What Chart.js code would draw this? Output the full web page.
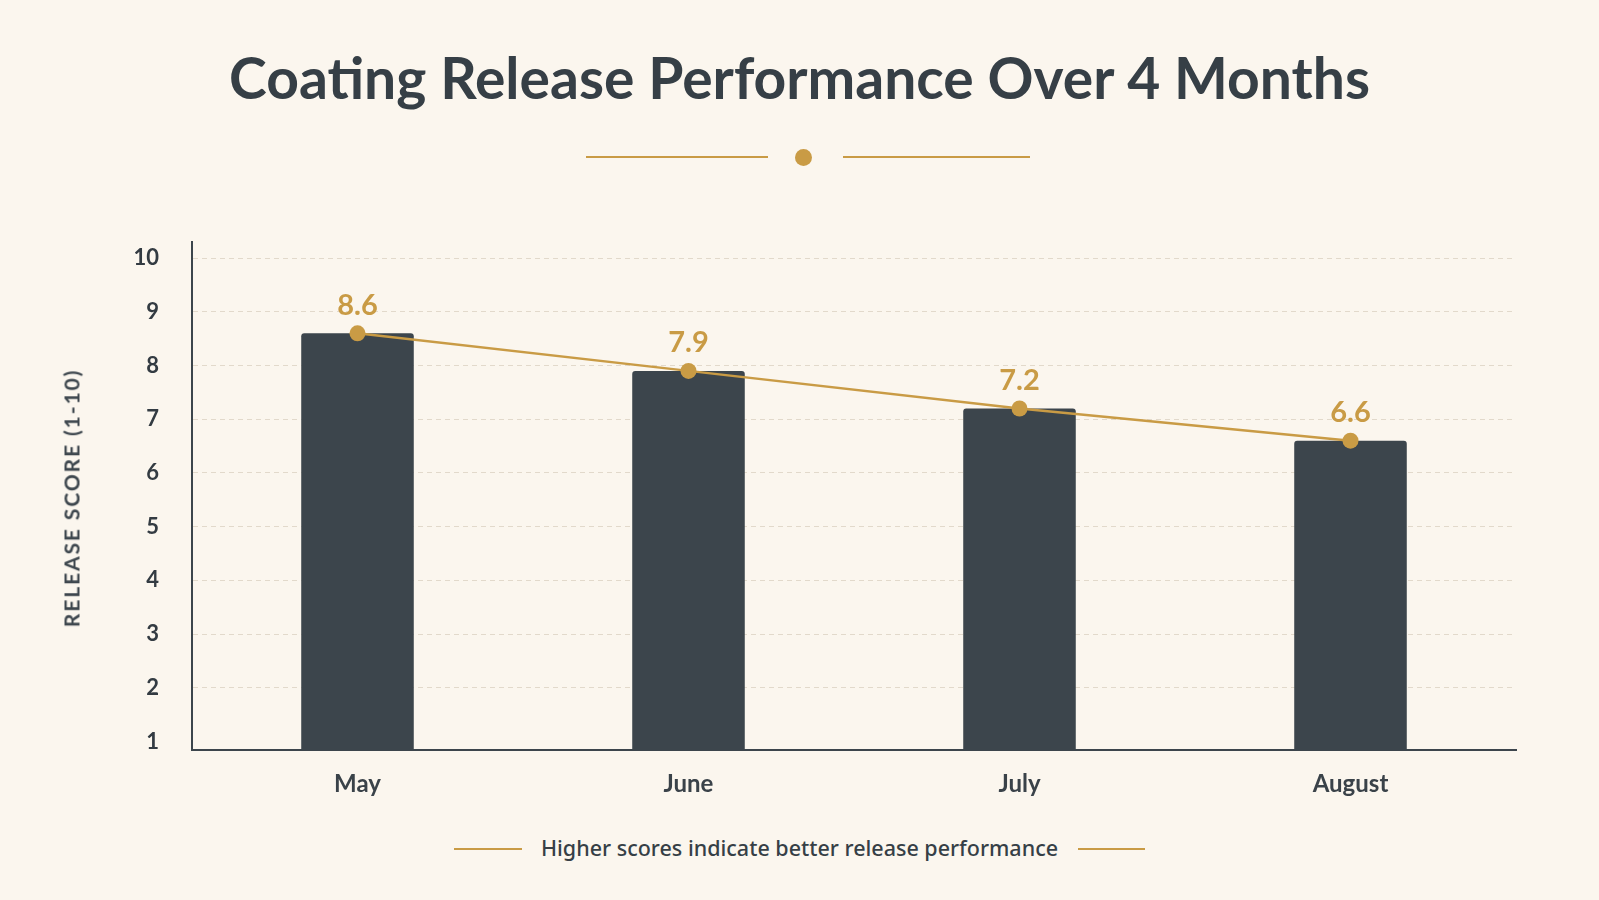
<!DOCTYPE html>
<html>
<head>
<meta charset="utf-8">
<script src="https://cdn.jsdelivr.net/npm/chart.js@4.4.1/dist/chart.umd.min.js"></script>
<style>
  html, body { margin: 0; padding: 0; }
  body { width: 1599px; height: 900px; background: #fbf6ee; position: relative; overflow: hidden; font-family: Lato, 'Noto Sans', sans-serif; }
  .title { position: absolute; left: 0; width: 1599px; top: 42px; text-align: center; font-size: 57px; font-weight: 700; color: #363f46; line-height: 70px; }
  .rule { position: absolute; height: 2px; background: #c99b45; }
  .dot { position: absolute; width: 17px; height: 17px; border-radius: 50%; background: #c99b45; }
  .foot { position: absolute; left: 0; width: 1599px; top: 835px; text-align: center; font-family: 'Noto Sans', sans-serif; font-size: 21.5px; font-weight: 500; color: #363f46; line-height: 26px; }
  .ytitle { position: absolute; left: 71px; top: 498px; transform: translate(-50%, -50%) rotate(-90deg); white-space: nowrap;
            font-size: 21px; font-weight: 700; letter-spacing: 1.9px; color: #3d464d; }
  #wrap { position: absolute; left: 0; top: 190px; width: 1599px; height: 640px; }
</style>
</head>
<body>
<div class="title">Coating Release Performance Over 4 Months</div>
<div class="rule" style="left:586px; width:182px; top:156px"></div>
<div class="dot" style="left:795px; top:149px"></div>
<div class="rule" style="left:843px; width:187px; top:156px"></div>

<div id="wrap"><canvas id="chart"></canvas></div>
<div class="ytitle">RELEASE SCORE (1-10)</div>

<div class="rule" style="left:454px; width:68px; top:848px"></div>
<div class="foot">Higher scores indicate better release performance</div>
<div class="rule" style="left:1078px; width:67px; top:848px"></div>

<script>
// data
const months = ['May', 'June', 'July', 'August'];
const scores = [8.6, 7.9, 7.2, 6.6];
const yTicks = [1, 2, 3, 4, 5, 6, 7, 8, 9, 10];

const INK = '#3c454c';
const GOLD = '#c99b45';

// value labels above the trend points
const valueLabels = {
  id: 'valueLabels',
  afterDatasetsDraw(chart) {
    const meta = chart.getDatasetMeta(1);
    const ctx = chart.ctx;
    ctx.save();
    ctx.font = '700 29px Lato, sans-serif';
    ctx.fillStyle = GOLD;
    ctx.textAlign = 'center';
    ctx.textBaseline = 'middle';
    meta.data.forEach((pt, i) => {
      ctx.fillText(scores[i].toFixed(1), pt.x, pt.y - 28);
    });
    ctx.restore();
  }
};

new Chart(document.getElementById('chart'), {
  data: {
    labels: months,
    datasets: [{
      type: 'bar',
      data: scores,
      backgroundColor: INK,
      borderRadius: { topLeft: 3, topRight: 3 },
      borderSkipped: 'bottom',
      barPercentage: 0.34,
      categoryPercentage: 1,
      order: 2,
    }, {
      type: 'line',
      data: scores,
      borderColor: GOLD,
      borderWidth: 2.5,
      pointRadius: 8,
      pointBackgroundColor: GOLD,
      pointBorderWidth: 0,
      tension: 0,
      order: 1,
    }],
  },
  options: {
    responsive: true,
    maintainAspectRatio: false,
    animation: false,
    layout: { padding: { top: 52, right: 83, left: 0, bottom: 0 } },
    plugins: { legend: { display: false }, tooltip: { enabled: false } },
    scales: {
      x: {
        grid: { display: false, drawTicks: false },
        border: { color: INK, width: 2 },
        ticks: { color: '#3a4249', font: { family: 'Lato', size: 24, weight: '700' }, padding: 20 },
        afterFit(scale) { scale.height = 80; },
      },
      y: {
        min: 0.84,
        max: 10.3,
        afterBuildTicks(scale) { scale.ticks = yTicks.map((v) => ({ value: v })); },
        grid: {
          drawTicks: false,
          color: (c) => (c.tick && c.tick.value === 1 ? 'rgba(0,0,0,0)' : '#e2d9cb'),
          lineWidth: 1,
        },
        // border.dash is applied to the gridlines, the axis line stays solid
        border: { color: INK, width: 2, dash: [5, 4] },
        ticks: { color: '#333b42', font: { family: 'Lato', size: 22, weight: '700' }, padding: 33 },
        afterFit(scale) { scale.width = 192; },
      },
    },
  },
  plugins: [valueLabels],
});
</script>
</body>
</html>
